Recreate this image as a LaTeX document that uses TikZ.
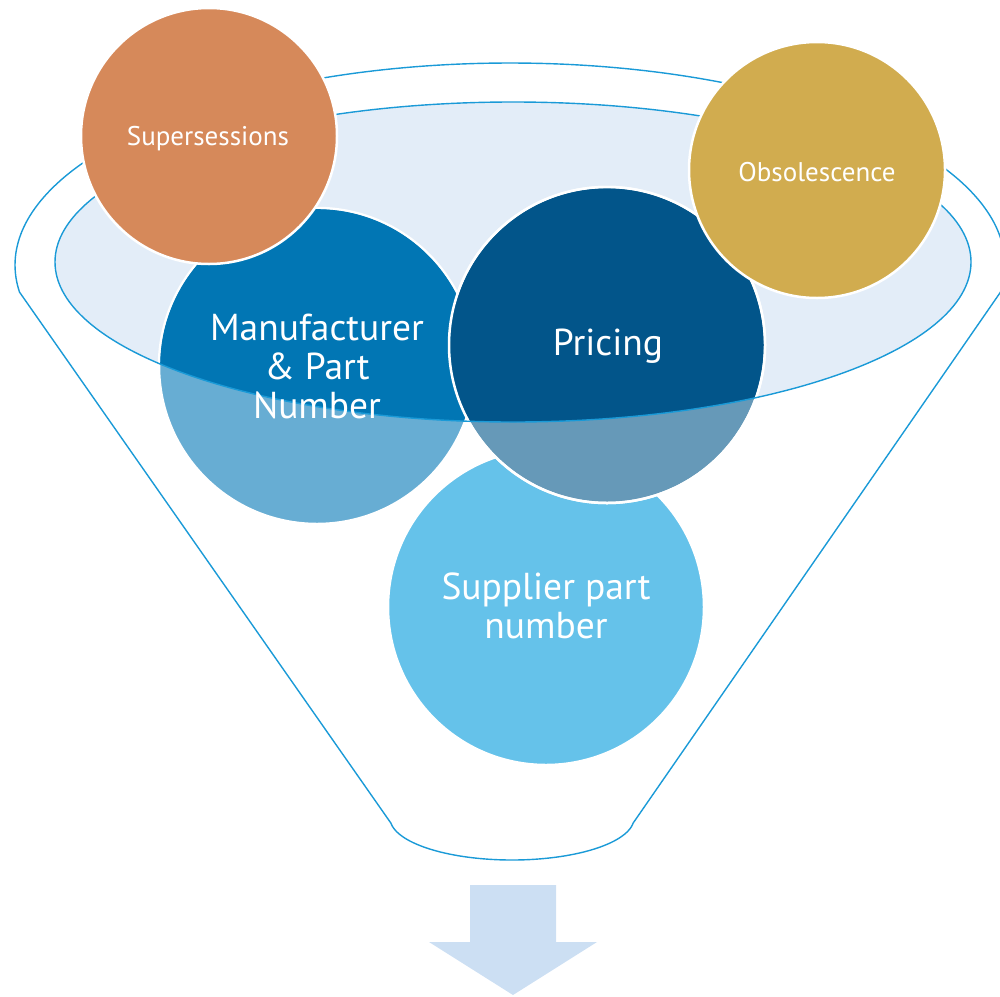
\documentclass[tikz,border=0pt]{standalone}
\usepackage{fontspec}
\setmainfont{PT Sans}
\definecolor{rimfill}{HTML}{E3EDF8}
\definecolor{lineblue}{HTML}{1A9AD7}
\definecolor{mfgdark}{HTML}{0176B4}
\definecolor{mfglight}{HTML}{67ADD3}
\definecolor{pricedark}{HTML}{02558A}
\definecolor{pricelight}{HTML}{6699B8}
\definecolor{supplier}{HTML}{65C2EA}
\definecolor{superses}{HTML}{D6895A}
\definecolor{obsol}{HTML}{D1AC4F}
\definecolor{arrowcol}{HTML}{CCDFF3}
\begin{document}
\begin{tikzpicture}[x=1pt,y=-1pt,
  bubble/.style={circle, draw=white, line width=2.5pt, minimum size=#1, inner sep=0pt},
  bubbletext/.style={text=white, align=center, inner sep=0pt},
  bigtext/.style={bubbletext, font=\fontsize{37.5}{39}\selectfont},
  smalltext/.style={bubbletext, font=\fontsize{27}{30}\selectfont},
  funnelline/.style={draw=lineblue, line width=1.4pt}]
\useasboundingbox (0,0) rectangle (1000,996);
% outer funnel outline
\draw[funnelline] plot[domain=172.3:367.7,samples=180] ({510+495*cos(\x)},{265+202*sin(\x)})
  -- plot[domain=7:173,samples=100] ({512+122*cos(\x)},{818+42*sin(\x)}) -- cycle;
% rim of the funnel
\fill[rimfill] (513,262) ellipse [x radius=458pt, y radius=160pt];
% circles
\node[bubble=316pt, fill=mfglight] (mfg) at (317,366) {};
\node[bubble=316pt, fill=supplier] (sup) at (546,607) {};
\node[bubble=316pt, fill=pricelight] (price) at (607,345) {};
\begin{scope}
  \clip (513,262) ellipse [x radius=458pt, y radius=160pt];
  \fill[mfgdark] (mfg.center) circle[radius=156.8pt];
  \fill[pricedark] (price.center) circle[radius=156.8pt];
\end{scope}
\draw[white, line width=2.5pt] (price.center) circle[radius=158pt];
\draw[funnelline] (513,262) ellipse [x radius=458pt, y radius=160pt];
\node[bubble=256pt, fill=superses] (ss) at (209,136) {};
\node[bubble=256pt, fill=obsol] (obs) at (817,170) {};
% texts
\node[bigtext] (mfgt) at (317,366) {Manufacturer\\\& Part\\Number};
\node[bigtext] (pricet) at (608,346) {Pricing};
\node[bigtext] (supt) at (546,606) {Supplier part\\number};
\node[smalltext] (sst) at (208,138.5) {Supersessions};
\node[smalltext] (obst) at (817,172.5) {Obsolescence};
% output arrow
\fill[arrowcol] (470,885) -- (556,885) -- (556,942) -- (597,942) -- (513,995) -- (429,942) -- (470,942) -- cycle;
\end{tikzpicture}
\end{document}
